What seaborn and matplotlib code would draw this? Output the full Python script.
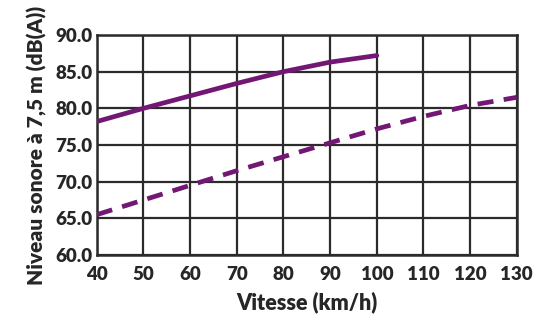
import matplotlib
matplotlib.use("Agg")
import matplotlib.pyplot as plt
import seaborn as sns
import pandas as pd

# speed (km/h) and noise level at 7.5 m (dB(A))
speed_solid = [40, 50, 60, 70, 80, 90, 100]
level_solid = [78.2, 80.0, 81.7, 83.4, 85.0, 86.3, 87.2]

speed_dashed = [40, 50, 60, 70, 80, 90, 100, 110, 120, 130]
level_dashed = [65.5, 67.5, 69.5, 71.5, 73.4, 75.3, 77.2, 78.9, 80.4, 81.5]

x_ticks = [40, 50, 60, 70, 80, 90, 100, 110, 120, 130]
y_ticks = [60, 65, 70, 75, 80, 85, 90]

purple = "#721874"
text_color = "#262626"

sns.set_style("white")
plt.rcParams["font.family"] = ["Lato", "DejaVu Sans"]

fig = plt.figure(figsize=(5.35, 3.24), dpi=100)
ax = fig.add_axes([0.181, 0.213, 0.785, 0.679])

df_solid = pd.DataFrame({"speed": speed_solid, "level": level_solid})
df_dashed = pd.DataFrame({"speed": speed_dashed, "level": level_dashed})

sns.lineplot(data=df_solid, x="speed", y="level", ax=ax, color=purple, lw=3.4,
             zorder=3)
sns.lineplot(data=df_dashed, x="speed", y="level", ax=ax, color=purple, lw=3.4,
             zorder=3, dashes=False, linestyle=(0, (3.4, 2.2)))

ax.set_xlim(40, 130)
ax.set_ylim(60, 90)
ax.set_xticks(x_ticks)
ax.set_yticks(y_ticks)
ax.set_yticklabels([f"{v:.1f}" for v in y_ticks])
ax.grid(True, color="#2b2b2b", lw=1.6)
for s in ax.spines.values():
    s.set_color("#2b2b2b")
    s.set_linewidth(1.8)

ax.tick_params(axis="x", direction="out", length=5, width=1.6, color="#2b2b2b",
               pad=3, labelsize=13.5, labelcolor=text_color)
ax.tick_params(axis="y", length=0, pad=3, labelsize=13.5, labelcolor=text_color)
for lbl in ax.get_xticklabels() + ax.get_yticklabels():
    lbl.set_fontweight("heavy")

ax.set_xlabel("Vitesse (km/h)", fontsize=15.5, fontweight="heavy",
              color=text_color, labelpad=6)
ax.set_ylabel("Niveau sonore à 7,5 m (dB(A))", fontsize=15, fontweight="heavy",
              color=text_color, labelpad=6)

fig.savefig("out.png", dpi=100)
